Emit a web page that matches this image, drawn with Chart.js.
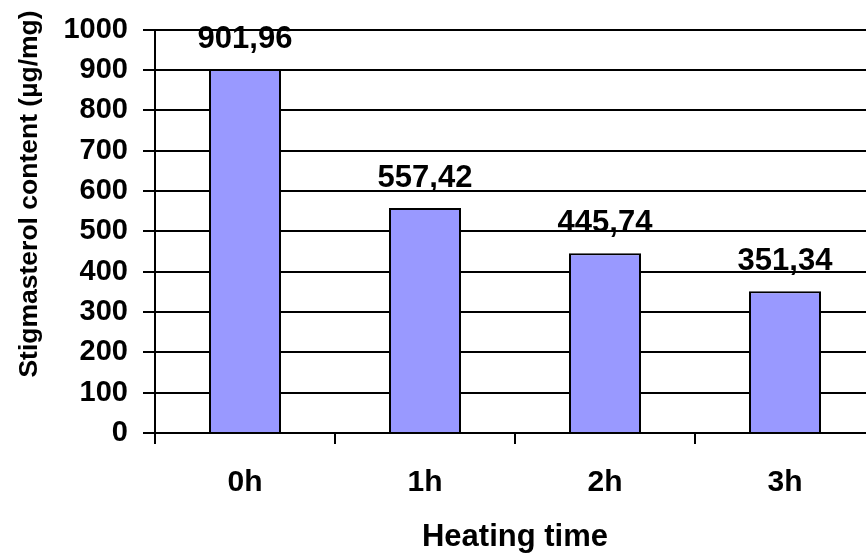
<!DOCTYPE html>
<html>
<head>
<meta charset="utf-8">
<script src="https://cdn.jsdelivr.net/npm/chart.js@4/dist/chart.umd.min.js"></script>
<style>
  html, body { margin: 0; padding: 0; background: #ffffff; overflow: hidden; }
  #wrap { width: 866px; height: 559px; overflow: hidden; position: relative; }
  #chart { position: absolute; left: 0; top: 0; }
</style>
</head>
<body>
<div id="wrap"><canvas id="chart" width="890" height="559"></canvas></div>
<script>
const FONT = '"Liberation Sans", Arial, sans-serif';

const heatingTimes = ["0h", "1h", "2h", "3h"];
const stigmasterol = [901.96, 557.42, 445.74, 351.34];
const yTitle = "Stigmasterol content (µg/mg)";
const xTitle = "Heating time";

// value labels above bars, decimal comma
const valueLabels = {
  id: "valueLabels",
  afterDatasetsDraw(chart) {
    const ctx = chart.ctx;
    const meta = chart.getDatasetMeta(0);
    ctx.save();
    ctx.font = `bold 31px ${FONT}`;
    ctx.fillStyle = "#000000";
    ctx.textAlign = "center";
    ctx.textBaseline = "alphabetic";
    meta.data.forEach((bar, i) => {
      const txt = stigmasterol[i].toFixed(2).replace(".", ",");
      ctx.fillText(txt, bar.x, bar.y - 21);
    });
    ctx.restore();
  },
};

// axis titles
const axisTitles = {
  id: "axisTitles",
  afterDraw(chart) {
    const ctx = chart.ctx;
    ctx.save();
    ctx.fillStyle = "#000000";
    ctx.textAlign = "center";
    ctx.textBaseline = "alphabetic";
    ctx.font = `bold 31px ${FONT}`;
    ctx.fillText(xTitle, 515, 546);

    ctx.font = `bold 26.5px ${FONT}`;
    ctx.translate(37, 194);
    ctx.rotate(-Math.PI / 2);
    ctx.fillText(yTitle, 0, 0);
    ctx.restore();
  },
};

new Chart(document.getElementById("chart"), {
  type: "bar",
  data: {
    labels: heatingTimes,
    datasets: [{
      data: stigmasterol,
      backgroundColor: "#9999ff",
      borderColor: "#000000",
      borderWidth: 2,
      barPercentage: 0.4,
      categoryPercentage: 1.0,
    }],
  },
  options: {
    responsive: false,
    animation: false,
    layout: { padding: { top: 21, right: 15, bottom: 0, left: 0 } },
    plugins: {
      legend: { display: false },
      tooltip: { enabled: false },
    },
    scales: {
      x: {
        afterFit(scale) { scale.height = 126; },
        grid: {
          offset: true,
          drawOnChartArea: false,
          drawTicks: true,
          tickLength: 11,
          color: "#000000",
          lineWidth: 2,
        },
        border: { color: "#000000", width: 2 },
        ticks: {
          color: "#000000",
          padding: 21,
          font: { family: FONT, size: 30, weight: "bold" },
        },
      },
      y: {
        min: 0,
        max: 1000,
        afterFit(scale) { scale.width = 155; },
        grid: {
          color: "#000000",
          lineWidth: 2,
          drawTicks: true,
          tickLength: 12,
        },
        border: { color: "#000000", width: 2 },
        ticks: {
          stepSize: 100,
          color: "#000000",
          padding: 15,
          font: { family: FONT, size: 29, weight: "bold", lineHeight: 1 },
          callback: (v) => String(v),
        },
      },
    },
  },
  plugins: [valueLabels, axisTitles],
});
</script>
</body>
</html>
